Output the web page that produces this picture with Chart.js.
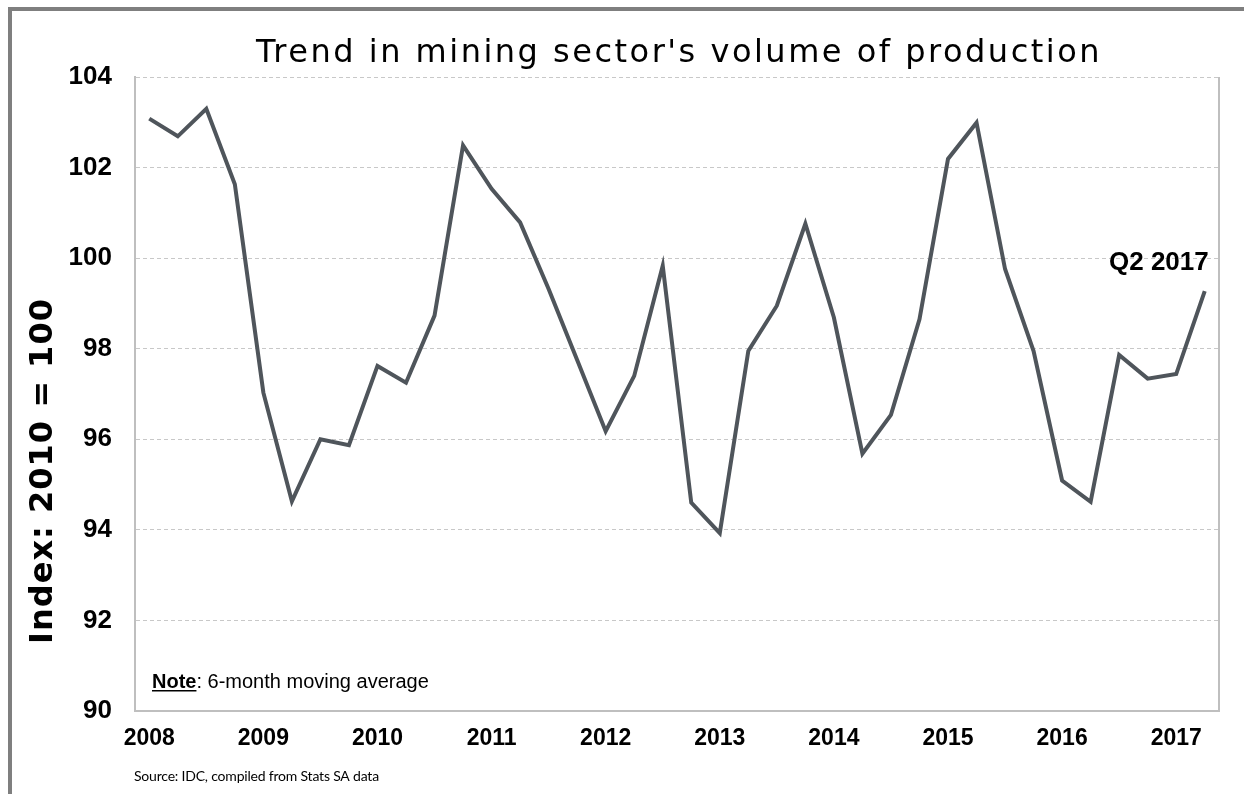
<!DOCTYPE html>
<html>
<head>
<meta charset="utf-8">
<title>Mining sector volume of production</title>
<script src="https://cdn.jsdelivr.net/npm/chart.js@4/dist/chart.umd.min.js"></script>
<style>
  html, body { margin: 0; padding: 0; background: #fff; overflow: hidden; }
  #frame {
    position: absolute; left: 8px; top: 7px; width: 1400px; height: 1000px;
    border-left: 4px solid #7f7f7f; border-top: 4px solid #7f7f7f;
  }
  #grafico { position: absolute; left: 0; top: 0; }
</style>
</head>
<body>
<div id="frame"></div>
<canvas id="grafico" width="1244" height="794"></canvas>
<script>
// quarterly index, 6-month moving average (2010 = 100)
const trimestres = [
  'Q1 2008', 'Q2 2008', 'Q3 2008', 'Q4 2008',
  'Q1 2009', 'Q2 2009', 'Q3 2009', 'Q4 2009',
  'Q1 2010', 'Q2 2010', 'Q3 2010', 'Q4 2010',
  'Q1 2011', 'Q2 2011', 'Q3 2011', 'Q4 2011',
  'Q1 2012', 'Q2 2012', 'Q3 2012', 'Q4 2012',
  'Q1 2013', 'Q2 2013', 'Q3 2013', 'Q4 2013',
  'Q1 2014', 'Q2 2014', 'Q3 2014', 'Q4 2014',
  'Q1 2015', 'Q2 2015', 'Q3 2015', 'Q4 2015',
  'Q1 2016', 'Q2 2016', 'Q3 2016', 'Q4 2016',
  'Q1 2017', 'Q2 2017'
];

const indice = [
  103.08, 102.69, 103.30, 101.63,
  97.03, 94.63, 96.00, 95.87,
  97.62, 97.25, 98.73, 102.49,
  101.53, 100.79, 99.32, 97.75,
  96.18, 97.40, 99.83, 94.60,
  93.93, 97.95, 98.95, 100.76,
  98.69, 95.68, 96.54, 98.65,
  102.19, 102.99, 99.76, 97.95,
  95.09, 94.62, 97.86, 97.34,
  97.44, 99.27
];

const anos = ['2008', '2009', '2010', '2011', '2012', '2013', '2014', '2015', '2016', '2017'];

const eixoY = { min: 90, max: 104, passo: 2 };

const titulo = "Trend in mining sector's volume of production";
const tituloEixoY = 'Index: 2010 = 100';
const nota = ': 6-month moving average';
const fonte = 'Source: IDC, compiled from Stats SA data';

/* =========================
   TEXTOS EXTRAS
========================= */
const textosExtras = {
  id: 'textosExtras',
  beforeDatasetsDraw(chart) {
    const { ctx, chartArea } = chart;
    // borda direita da area do grafico
    ctx.save();
    ctx.strokeStyle = '#bfbfbf';
    ctx.lineWidth = 2;
    ctx.beginPath();
    ctx.moveTo(chartArea.right, chartArea.top);
    ctx.lineTo(chartArea.right, chartArea.bottom + 1);
    ctx.stroke();
    ctx.restore();
  },
  afterDraw(chart) {
    const { ctx, chartArea } = chart;
    ctx.save();
    ctx.fillStyle = '#000';

    // titulo
    ctx.letterSpacing = '2.5px';
    ctx.font = '32px "DejaVu Sans"';
    ctx.textAlign = 'center';
    ctx.textBaseline = 'alphabetic';
    ctx.fillText(titulo, (chartArea.left + chartArea.right) / 2 + 2, 62);

    // titulo do eixo Y
    ctx.letterSpacing = '1px';
    ctx.save();
    ctx.translate(52, 471);
    ctx.rotate(-Math.PI / 2);
    ctx.font = 'bold 32px "DejaVu Sans"';
    ctx.fillText(tituloEixoY, 0, 0);
    ctx.restore();
    ctx.letterSpacing = '0px';

    // nota
    ctx.textAlign = 'left';
    ctx.font = 'bold 20px "Liberation Sans"';
    const xNota = chartArea.left + 17;
    ctx.fillText('Note', xNota, 688);
    const wNota = ctx.measureText('Note').width;
    ctx.fillRect(xNota, 690, wNota, 1.5);
    ctx.font = '20px "Liberation Sans"';
    ctx.fillText(nota, xNota + wNota, 688);

    // fonte
    ctx.letterSpacing = '-0.2px';
    ctx.font = '14px Lato';
    ctx.fillText(fonte, chartArea.left - 1, 781);
    ctx.letterSpacing = '0px';

    // rotulo do ultimo ponto
    const meta = chart.getDatasetMeta(0);
    const ultimo = meta.data[meta.data.length - 1];
    ctx.textAlign = 'right';
    ctx.font = 'bold 26px "Liberation Sans"';
    ctx.fillText(trimestres[trimestres.length - 1], ultimo.x + 4, ultimo.y - 21);

    ctx.restore();
  }
};

/* =========================
   GRAFICO LINHA
========================= */
const grafico = new Chart(document.getElementById('grafico'), {
  type: 'line',
  data: {
    labels: trimestres,
    datasets: [{
      data: indice,
      borderColor: '#4f555b',
      borderWidth: 4,
      pointRadius: 0,
      tension: 0,
      fill: false
    }]
  },
  options: {
    responsive: false,
    animation: false,
    devicePixelRatio: 1,
    layout: { padding: { top: 77, right: 25, bottom: 0, left: 0 } },
    plugins: {
      legend: { display: false },
      tooltip: { enabled: false }
    },
    scales: {
      x: {
        offset: true,
        afterFit: s => { s.height = 83; },
        grid: { display: false, drawTicks: false },
        border: { display: true, color: '#bfbfbf', width: 2 },
        ticks: {
          autoSkip: false,
          maxRotation: 0,
          padding: 14,
          color: '#000',
          font: { family: '"Liberation Sans"', size: 23, weight: 'bold' },
          callback: (v, i) => (i % 4 === 0 ? anos[i / 4] : '')
        }
      },
      y: {
        min: eixoY.min,
        max: eixoY.max,
        afterFit: s => { s.width = 135; },
        grid: { color: '#c8c8c8', lineWidth: 1, drawTicks: false },
        border: { display: true, color: '#bfbfbf', width: 2, dash: [4, 3] },
        ticks: {
          stepSize: eixoY.passo,
          padding: 23,
          color: '#000',
          font: { family: '"Liberation Sans"', size: 26, weight: 'bold' }
        }
      }
    }
  },
  plugins: [textosExtras]
});
</script>
</body>
</html>
